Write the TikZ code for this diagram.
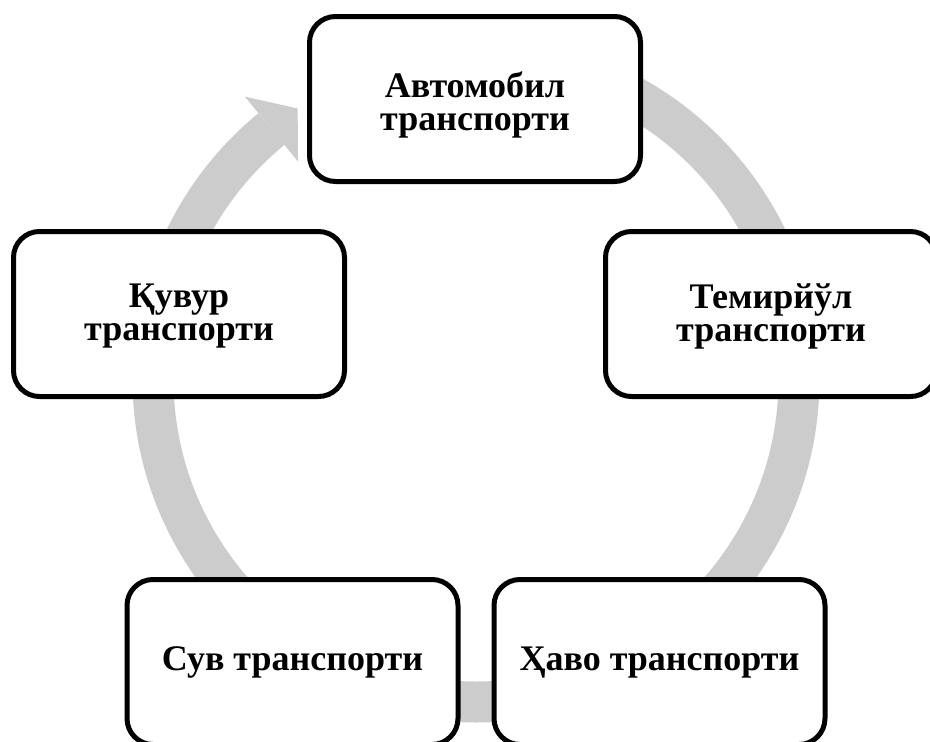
\documentclass[tikz,border=0pt]{standalone}
\usepackage{fontspec}
\setmainfont{Liberation Serif}
\usetikzlibrary{calc}
\definecolor{ringgray}{RGB}{204,204,204}
\newcommand\cyctext[2]{\raisebox{-#1}[\height][\depth]{\begin{tabular}{@{}c@{}}#2\end{tabular}}}
\tikzset{
  cyclebox/.style={draw=black, line width=5pt, rounded corners=26pt, fill=white,
    minimum width=331pt, minimum height=165pt, align=center, inner sep=0pt,
    font=\bfseries\fontsize{36}{33}\selectfont},
  ringline/.style={draw=ringgray, line width=41pt},
  ringhead/.style={fill=ringgray, draw=none}
}
\begin{document}
\begin{tikzpicture}[x=1pt,y=-1pt]
\useasboundingbox (0,0) rectangle (930,742);
\clip (0,0) rectangle (930,742);
\coordinate (ctr) at (476,379);
% ring
\draw[ringline] ($(ctr)+(-90:323)$) arc[start angle=-90, end angle=230.7, radius=323];
\coordinate (barbout) at ($(ctr)+(230.7:365)$);
\coordinate (barbin) at ($(ctr)+(230.7:281)$);
\coordinate (tip) at ($(ctr)+(236.6:324)$);
\fill[ringhead] (barbout) -- (tip) -- (barbin) -- cycle;
% boxes
\node[cyclebox] (auto) at (475,99) {\cyctext{7pt}{Автомобил\\транспорти}};
\node[cyclebox] (rail) at (771,314) {\cyctext{4pt}{Темирйўл\\транспорти}};
\node[cyclebox] (air) at (659.5,662) {\cyctext{2pt}{Ҳаво транспорти}};
\node[cyclebox] (water) at (292.5,662) {\cyctext{2pt}{Сув транспорти}};
\node[cyclebox] (pipe) at (179,314) {\cyctext{3pt}{Қувур\\транспорти}};
\end{tikzpicture}
\end{document}
